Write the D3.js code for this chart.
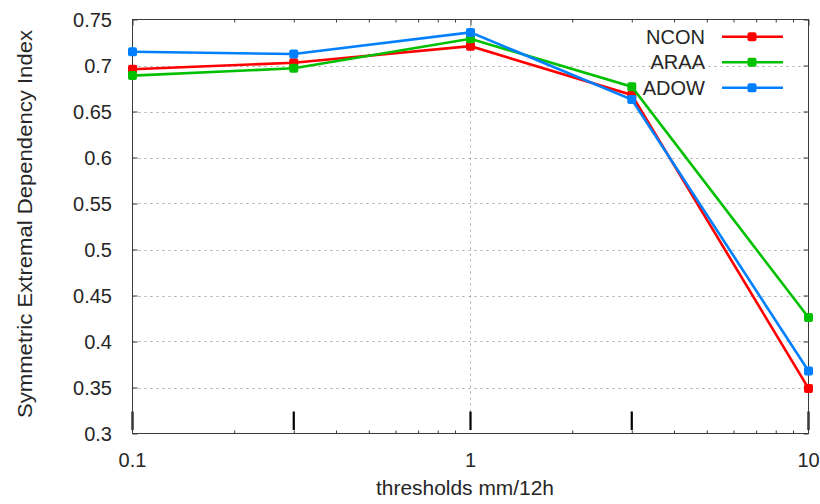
<!DOCTYPE html>
<html>
<head>
<meta charset="utf-8">
<script src="https://cdn.jsdelivr.net/npm/d3@7/dist/d3.min.js"></script>
<style>
  html, body { margin: 0; padding: 0; background: #fff; }
  svg { display: block; }
  text { font-family: "Liberation Sans", Arial, sans-serif; fill: #262626; }
</style>
</head>
<body>
<svg id="chart" width="820" height="504"></svg>
<script>
// Thresholds (mm/12h) and SEDI scores per model
const thresholds = [0.1, 0.3, 1, 3, 10];
const seriesNames = ["NCON", "ARAA", "ADOW"];
const ncon = [0.696, 0.703, 0.721, 0.668, 0.349];
const araa = [0.689, 0.697, 0.729, 0.677, 0.426];
const adow = [0.715, 0.7125, 0.736, 0.663, 0.368];
const seriesColors = ["#ff0000", "#00c000", "#0080ff"];
const yTicks = [0.3, 0.35, 0.4, 0.45, 0.5, 0.55, 0.6, 0.65, 0.7, 0.75];
const xTickLabels = [0.1, 1, 10];
const xMinorTicks = [0.2, 0.3, 0.4, 0.5, 0.6, 0.7, 0.8, 0.9, 2, 3, 4, 5, 6, 7, 8, 9];

const series = [ncon, araa, adow].map((vals, i) => ({
  name: seriesNames[i], color: seriesColors[i],
  points: thresholds.map((t, j) => ({ x: t, y: vals[j] }))
}));

const svg = d3.select("#chart");
const plotL = 132.5, plotR = 808.5, plotT = 19.5, plotB = 433.5;

const x = d3.scaleLog().domain([0.1, 10]).range([plotL, plotR]);
const y = d3.scaleLinear().domain([0.3, 0.75]).range([plotB, plotT]);

// grid
const grid = svg.append("g");
grid.selectAll("line.h").data(yTicks.filter(v => v > 0.3 && v < 0.75)).join("line")
  .attr("x1", plotL).attr("x2", plotR)
  .attr("y1", d => Math.round(y(d)) + 0.5).attr("y2", d => Math.round(y(d)) + 0.5)
  .attr("stroke", "#a8a8a8").attr("stroke-width", 1).attr("stroke-dasharray", "2,4");
grid.selectAll("line.v").data([1]).join("line")
  .attr("x1", d => Math.round(x(d)) + 0.5).attr("x2", d => Math.round(x(d)) + 0.5)
  .attr("y1", plotT).attr("y2", plotB)
  .attr("stroke", "#a8a8a8").attr("stroke-width", 1).attr("stroke-dasharray", "2,4");

// axes (ticks only, labels drawn separately)
const axisColor = "#3a3a3a";
function styleAxis(g) {
  g.select(".domain").remove();
  g.selectAll(".tick line").attr("stroke", axisColor);
  g.selectAll(".tick text").remove();
}
svg.append("g").attr("transform", `translate(${plotL},0)`)
  .call(d3.axisRight(y).tickValues(yTicks).tickSize(5)).call(styleAxis);
svg.append("g").attr("transform", `translate(${plotR},0)`)
  .call(d3.axisLeft(y).tickValues(yTicks).tickSize(5)).call(styleAxis);
svg.append("g").attr("transform", `translate(0,${plotT})`)
  .call(d3.axisBottom(x).tickValues(xMinorTicks).tickSize(3)).call(styleAxis);
svg.append("g").attr("transform", `translate(0,${plotT})`)
  .call(d3.axisBottom(x).tickValues(xTickLabels).tickSize(6)).call(styleAxis);
svg.append("g").attr("transform", `translate(0,${plotB})`)
  .call(d3.axisTop(x).tickValues(xMinorTicks).tickSize(3)).call(styleAxis);

// tall markers at each threshold along the bottom
svg.append("g").selectAll("line").data(thresholds).join("line")
  .attr("x1", d => x(d)).attr("x2", d => x(d))
  .attr("y1", y(0.3) - 22).attr("y2", y(0.3) - 3.5)
  .attr("stroke", "#000").attr("stroke-width", 2.2);

// border
svg.append("rect").attr("x", plotL).attr("y", plotT)
  .attr("width", plotR - plotL).attr("height", plotB - plotT)
  .attr("fill", "none").attr("stroke", axisColor).attr("stroke-width", 1);

// tick labels
svg.append("g").selectAll("text").data(yTicks).join("text")
  .attr("x", 112).attr("y", d => y(d)).attr("dy", "0.36em")
  .attr("text-anchor", "end").attr("font-size", 20)
  .text(d => String(+d.toFixed(2)));
svg.append("g").selectAll("text").data(xTickLabels).join("text")
  .attr("x", d => x(d)).attr("y", 459.5).attr("dy", "0.36em")
  .attr("text-anchor", "middle").attr("font-size", 20)
  .text(d => d);

// axis titles
svg.append("text").attr("x", 465).attr("y", 495)
  .attr("text-anchor", "middle").attr("font-size", 20)
  .attr("textLength", 178).attr("lengthAdjust", "spacingAndGlyphs")
  .text("thresholds mm/12h");
svg.append("text").attr("transform", "translate(32,224) rotate(-90)")
  .attr("text-anchor", "middle").attr("font-size", 20)
  .attr("textLength", 388).attr("lengthAdjust", "spacingAndGlyphs")
  .text("Symmetric Extremal Dependency Index");

// series
const line = d3.line().x(d => x(d.x)).y(d => y(d.y));
const plot = svg.append("g");
series.forEach(s => {
  plot.append("path").datum(s.points)
    .attr("d", line).attr("fill", "none")
    .attr("stroke", s.color).attr("stroke-width", 2.6)
    .attr("stroke-linejoin", "miter");
  plot.selectAll(null).data(s.points).join("rect")
    .attr("x", d => x(d.x) - 4.5).attr("y", d => y(d.y) - 4.5)
    .attr("width", 9).attr("height", 9).attr("rx", 2)
    .attr("fill", s.color);
});

// legend
const legend = svg.append("g");
series.forEach((s, i) => {
  const ly = 36.7 + i * 25.5;
  legend.append("text").attr("x", 705).attr("y", ly).attr("dy", "0.36em")
    .attr("text-anchor", "end").attr("font-size", 20).text(s.name);
  legend.append("line").attr("x1", 722).attr("x2", 783)
    .attr("y1", ly).attr("y2", ly)
    .attr("stroke", s.color).attr("stroke-width", 2.6);
  legend.append("rect").attr("x", 752 - 4.5).attr("y", ly - 4.5)
    .attr("width", 9).attr("height", 9).attr("rx", 2).attr("fill", s.color);
});
</script>
</body>
</html>
